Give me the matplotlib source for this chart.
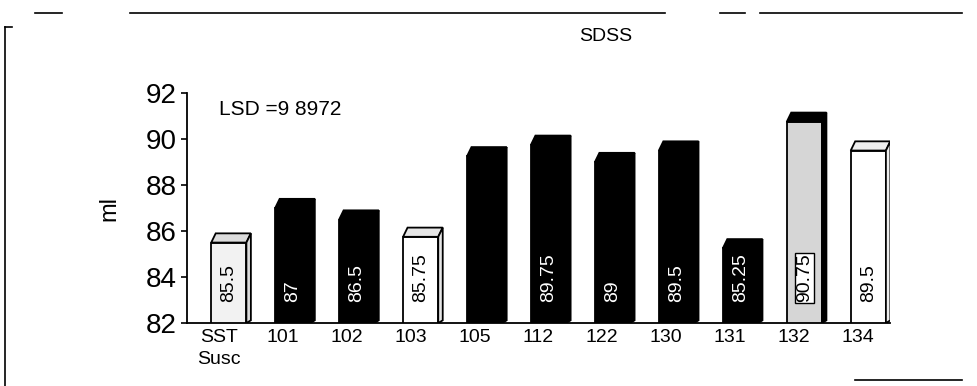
import matplotlib
matplotlib.use("Agg")
import matplotlib.pyplot as plt
from matplotlib.patches import Polygon
from matplotlib.lines import Line2D


CATEGORIES  = ["SST\nSusc", "101", "102", "103", "105", "112", "122", "130", "131", "132", "134"]
VALUES      = [85.5, 87, 86.5, 85.75, 89.25, 89.75, 89, 89.5, 85.25, 90.75, 89.5]
LABELS      = ["85.5", "87", "86.5", "85.75", "", "89.75", "89", "89.5", "85.25", "90.75", "89.5"]
FACE_COLORS = ["#f2f2f2", "black", "black", "white", "black", "black", "black", "black", "black", "#d6d6d6", "white"]
SIDE_COLORS = ["#dcdcdc", "black", "black", "#e6e6e6", "black", "black", "black", "black", "black", "black", "#eeeeee"]
Y_TICKS     = [82, 84, 86, 88, 90, 92]
TITLE       = "SDSS"
Y_LABEL     = "ml"
LSD_TEXT    = "LSD =9 8972"

BASE   = 82
WIDTH  = 0.55
SHIFT  = 0.16   # barres décalées vers la droite de l'étiquette
DX     = 0.07   # profondeur du relief
DY     = 0.4

plt.rcParams["font.family"] = ["Liberation Sans", "DejaVu Sans"]

fig = plt.figure(figsize=(9.77, 3.86), dpi=100)
ax  = fig.add_axes([0.191, 0.163, 0.72, 0.596])

positions = list(range(len(CATEGORIES)))

for i, value in enumerate(VALUES):
  x0 = positions[i] + SHIFT - WIDTH / 2
  x1 = x0 + WIDTH

  # Face avant
  ax.bar(positions[i] + SHIFT, value - BASE, bottom=BASE, width=WIDTH,
         color=FACE_COLORS[i], edgecolor="black", linewidth=1.3, zorder=3)

  # Dessus et côté pour l'effet 3D
  top = Polygon([(x0, value), (x0 + DX, value + DY), (x1 + DX, value + DY), (x1, value)],
                closed=True, facecolor=SIDE_COLORS[i], edgecolor="black", linewidth=1.3, zorder=3)
  side = Polygon([(x1, BASE), (x1 + DX, BASE + DY * 0.3), (x1 + DX, value + DY), (x1, value)],
                 closed=True, facecolor=SIDE_COLORS[i], edgecolor="black", linewidth=1.3, zorder=3)
  ax.add_patch(top)
  ax.add_patch(side)

  if LABELS[i]:
    text_color = "white" if FACE_COLORS[i] == "black" else "black"
    bbox = None
    if CATEGORIES[i] == "132":
      bbox = dict(facecolor="white", edgecolor="black", pad=0.5)
    ax.text(positions[i] + SHIFT, BASE + 0.9, LABELS[i], rotation=90,
            ha="center", va="bottom", fontsize=14, color=text_color, bbox=bbox, zorder=4)

ax.set_xlim(-0.5, len(CATEGORIES) - 0.5)
ax.set_ylim(BASE, 92)
ax.set_yticks(Y_TICKS)
ax.set_xticks(positions)
ax.set_xticklabels(CATEGORIES, fontsize=14, linespacing=1.4, va="top", ha="center")

ax.tick_params(axis="y", labelsize=20, length=4, width=1.2, pad=3)
ax.tick_params(axis="x", length=0, pad=4)

ax.spines["top"].set_visible(False)
ax.spines["right"].set_visible(False)
ax.spines["left"].set_linewidth(1.3)
ax.spines["bottom"].set_linewidth(1.3)

ax.set_ylabel(Y_LABEL, fontsize=17, labelpad=18)
ax.text(0.0, 91.3, LSD_TEXT, fontsize=15, ha="left", va="center")

fig.text(0.62, 0.905, TITLE, fontsize=14, ha="center", va="center")

# Bordure partielle du cadre
W, H = 977, 386
segments = [
  ((35, 62), (13, 13)),
  ((130, 665), (13, 13)),
  ((720, 745), (13, 13)),
  ((760, 962), (13, 13)),
  ((5, 5), (27, 386)),
  ((5, 12), (27, 27)),
  ((855, 962), (380, 380)),
]
for xs, ys in segments:
  fig.add_artist(Line2D([x / W for x in xs], [1 - y / H for y in ys],
                        color="black", linewidth=1.2))

fig.savefig("out.png", dpi=100)
